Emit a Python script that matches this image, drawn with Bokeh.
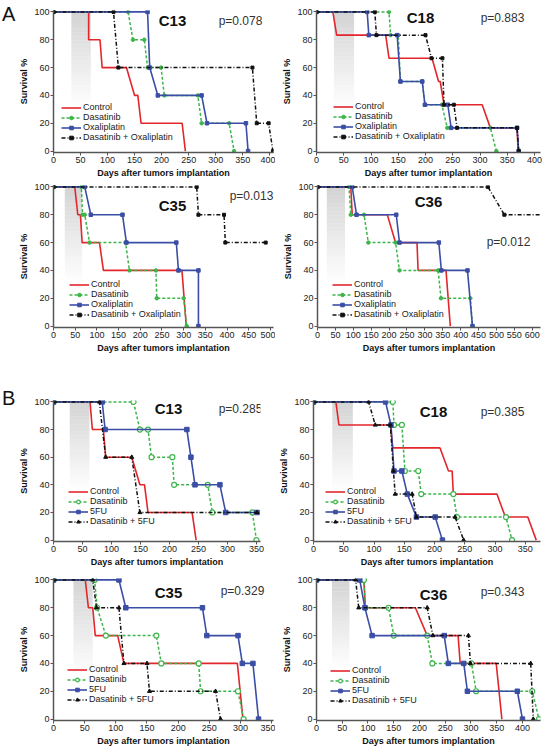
import numpy as np
from bokeh.plotting import figure
from bokeh.models import Range1d, Legend, LegendItem, Label, FixedTicker, Div, Spacer
from bokeh.layouts import row, column
from bokeh.embed import file_html
from bokeh.resources import INLINE

FONT = "Liberation Sans"

# ---------------- DATA (days, survival %) ----------------
# Panel A / C13
a13_ctl_d = [0, 65, 65, 86, 90, 135, 150, 156, 162, 238, 244]
a13_ctl_s = [100, 100, 80, 80, 60, 60, 40, 40, 20, 20, 0]
a13_das_d = [0, 138, 147, 168, 174, 199, 205, 267, 274, 325, 334]
a13_das_s = [100, 100, 80, 80, 60, 60, 40, 40, 20, 20, 0]
a13_oxa_d = [0, 174, 178, 193, 274, 284, 356, 360]
a13_oxa_s = [100, 100, 60, 40, 40, 20, 20, 0]
a13_cmb_d = [0, 111, 120, 368, 376, 398, 406]
a13_cmb_s = [100, 100, 60, 60, 20, 20, 0]
# Panel A / C18
a18_ctl_d = [0, 30, 37, 127, 133, 212, 224, 227, 234, 304, 319, 368, 370]
a18_ctl_s = [100, 100, 83.3, 83.3, 66.7, 66.7, 50, 50, 33.3, 33.3, 16.7, 16.7, 0]
a18_das_d = [0, 133, 136, 150, 154, 194, 199, 230, 240, 319, 330]
a18_das_s = [100, 100, 83.3, 83.3, 50, 50, 33.3, 33.3, 16.7, 16.7, 0]
a18_oxa_d = [0, 93, 96, 148, 154, 194, 199, 241, 247, 368, 371]
a18_oxa_s = [100, 100, 83.3, 83.3, 50, 50, 33.3, 33.3, 16.7, 16.7, 0]
a18_cmb_d = [0, 107, 110, 200, 211, 231, 234, 252, 258, 368, 371]
a18_cmb_s = [100, 100, 83.3, 83.3, 66.7, 66.7, 33.3, 33.3, 16.7, 16.7, 0]
# Panel A / C35
a35_ctl_d = [0, 49, 56, 62, 66, 106, 115, 296, 306]
a35_ctl_s = [100, 100, 80, 80, 60, 60, 40, 40, 0]
a35_das_d = [0, 64, 67, 72, 83, 166, 175, 236, 238, 300, 307]
a35_das_s = [100, 100, 80, 80, 60, 60, 40, 40, 20, 20, 0]
a35_oxa_d = [0, 72, 86, 159, 168, 283, 288, 334, 334]
a35_oxa_s = [100, 100, 80, 80, 60, 60, 40, 40, 0]
a35_cmb_d = [0, 330, 334, 393, 396, 489]
a35_cmb_s = [100, 100, 80, 80, 60, 60]
# Panel A / C36
a36_ctl_d = [0, 93, 97, 195, 218, 278, 281, 359, 371]
a36_ctl_s = [100, 100, 80, 80, 60, 60, 40, 40, 0]
a36_das_d = [0, 88, 93, 130, 142, 218, 229, 337, 345, 427, 433]
a36_das_s = [100, 100, 80, 80, 60, 60, 40, 40, 20, 20, 0]
a36_oxa_d = [0, 97, 109, 220, 229, 339, 346, 419, 433]
a36_oxa_s = [100, 100, 80, 80, 60, 60, 40, 40, 0]
a36_cmb_d = [0, 476, 522, 636]
a36_cmb_s = [100, 100, 80, 80]
# Panel B / C13
b13_ctl_d = [0, 63, 67, 86, 90, 135, 149, 157, 163, 239, 246]
b13_ctl_s = [100, 100, 80, 80, 60, 60, 40, 40, 20, 20, 0]
b13_das_d = [0, 138, 149, 163, 169, 205, 208, 266, 274, 343, 350]
b13_das_s = [100, 100, 80, 80, 60, 60, 40, 40, 20, 20, 0]
b13_fu_d = [0, 84, 89, 230, 237, 244, 287, 297, 351]
b13_fu_s = [100, 100, 80, 80, 60, 40, 40, 20, 20]
b13_cmb_d = [0, 79, 90, 135, 149, 351]
b13_cmb_s = [100, 100, 60, 60, 20, 20]
# Panel B / C18
b18_ctl_d = [0, 37, 42, 127, 131, 209, 223, 229, 231, 303, 317, 354, 368]
b18_ctl_s = [100, 100, 83.3, 83.3, 66.7, 66.7, 50, 50, 33.3, 33.3, 16.7, 16.7, 0]
b18_das_d = [0, 131, 133, 146, 151, 173, 178, 231, 237, 318, 328]
b18_das_s = [100, 100, 83.3, 83.3, 50, 50, 33.3, 33.3, 16.7, 16.7, 0]
b18_fu_d = [0, 119, 128, 133, 146, 155, 170, 201, 213]
b18_fu_s = [100, 100, 83.3, 50, 50, 33.3, 16.7, 16.7, 0]
b18_cmb_d = [0, 91, 102, 127, 132, 135, 163, 170, 234, 248]
b18_cmb_s = [100, 100, 83.3, 83.3, 50, 33.3, 33.3, 16.7, 16.7, 0]
# Panel B / C35
b35_ctl_d = [0, 51, 56, 63, 67, 103, 113, 295, 304]
b35_ctl_s = [100, 100, 80, 80, 60, 60, 40, 40, 0]
b35_das_d = [0, 66, 70, 84, 165, 173, 233, 236, 296, 305]
b35_das_s = [100, 100, 80, 60, 60, 40, 40, 20, 20, 0]
b35_fu_d = [0, 105, 116, 239, 246, 296, 303, 320, 329]
b35_fu_s = [100, 100, 80, 80, 60, 60, 40, 40, 0]
b35_cmb_d = [0, 63, 69, 105, 113, 150, 154, 260, 268]
b35_cmb_s = [100, 100, 80, 80, 40, 40, 20, 20, 0]
# Panel B / C36
b36_ctl_d = [0, 92, 95, 192, 215, 275, 279, 349, 360]
b36_ctl_s = [100, 100, 80, 80, 60, 60, 40, 40, 0]
b36_das_d = [0, 92, 95, 140, 150, 215, 225, 301, 310, 419, 432]
b36_das_s = [100, 100, 80, 80, 60, 60, 40, 40, 20, 20, 0]
b36_fu_d = [0, 84, 94, 108, 248, 256, 286, 293, 390, 400]
b36_fu_s = [100, 100, 80, 60, 60, 40, 40, 20, 20, 0]
b36_cmb_d = [0, 76, 82, 215, 226, 295, 299, 416, 421]
b36_cmb_s = [100, 100, 80, 80, 60, 60, 40, 40, 0]

# treatment window (shaded) per panel: start day, end day, fade level %
treat_a13 = [33, 69, 30]
treat_a18 = [32, 69, 30]
treat_a35 = [26, 66, 30]
treat_a36 = [26, 77, 30]
treat_b13 = [28, 62, 35]
treat_b18 = [31, 65, 35]
treat_b35 = [32, 63, 30]
treat_b36 = [30, 64, 35]

y_ticks = [0, 20, 40, 60, 80, 100]
x_ticks_400 = [0, 50, 100, 150, 200, 250, 300, 350, 400]
x_ticks_500 = [0, 50, 100, 150, 200, 250, 300, 350, 400, 450, 500]
x_ticks_600 = [0, 50, 100, 150, 200, 250, 300, 350, 400, 450, 500, 550, 600]
x_ticks_350 = [0, 50, 100, 150, 200, 250, 300, 350]

RED = "#e3262b"
GREEN = "#3db54a"
BLUE = "#3b4ea6"
BLACK = "#111111"


def panel(w, h, bl, br, bt, bb, xmax, xticks, xlabel, treat, series, names, title, tpos,
          pval, ppos, legpos, kind):
    p = figure(width=w, height=h, x_range=Range1d(0, xmax), y_range=Range1d(-1, 101),
               output_backend="svg", toolbar_location=None, min_border=0,
               min_border_left=bl, min_border_right=br, min_border_top=bt,
               min_border_bottom=bb)
    p.outline_line_color = None
    p.xgrid.visible = False
    p.ygrid.visible = False
    p.background_fill_color = "white"
    p.border_fill_color = "white"

    # shaded treatment window with vertical fade
    n = 24
    t0, t1, fade = treat
    edges = np.linspace(100, fade, n + 1)
    alphas = np.linspace(0.6, 0.0, n)
    p.quad(left=[t0] * n, right=[t1] * n, top=edges[:-1], bottom=edges[1:],
           fill_color="#b8b8b8", fill_alpha=alphas, line_color=None)

    cols = [RED, GREEN, BLUE, BLACK]
    items = []
    for i, (d, s) in enumerate(series):
        c = cols[i]
        if i == 0:
            r = p.line(d, s, line_color=c, line_width=1.6)
            rs = [r]
        elif i == 1:
            r = p.line(d, s, line_color=c, line_width=1.5, line_dash="3 2")
            if kind == "A":
                m = p.scatter(d, s, marker="circle", size=3.5, fill_color=c, line_color=c)
            else:
                m = p.scatter(d, s, marker="circle", size=5, fill_color="white",
                              line_color=c, line_width=1.2)
            rs = [r, m]
        elif i == 2:
            r = p.line(d, s, line_color=c, line_width=1.6)
            m = p.scatter(d, s, marker="square", size=3.5 if kind == "A" else 4.5,
                          fill_color=c, line_color=c)
            rs = [r, m]
        else:
            r = p.line(d, s, line_color=c, line_width=1.5, line_dash="4 2 1 2")
            m = p.scatter(d, s, marker="square" if kind == "A" else "triangle",
                          size=3 if kind == "A" else 4, fill_color=c, line_color=c)
            rs = [r, m]
        items.append(LegendItem(label=names[i], renderers=rs))

    leg = Legend(items=items, location=legpos, background_fill_alpha=0,
                 border_line_alpha=0, padding=0, margin=0, spacing=0,
                 label_text_font=FONT, label_text_font_size="9px",
                 label_text_color="#222222", label_height=9, glyph_height=9,
                 glyph_width=20, label_standoff=2)
    p.add_layout(leg)

    for ax in (p.xaxis, p.yaxis):
        ax.axis_line_color = "#555555"
        ax.axis_line_width = 1.5
        ax.major_tick_line_color = "#555555"
        ax.major_tick_out = 3
        ax.major_tick_in = 0
        ax.minor_tick_line_color = None
        ax.major_label_text_font = FONT
        ax.major_label_text_font_size = "9px"
        ax.major_label_text_color = "#222222"
        ax.major_label_standoff = 1
        ax.axis_label_text_font = FONT
        ax.axis_label_text_font_size = "9px"
        ax.axis_label_text_font_style = "bold"
        ax.axis_label_text_color = "#111111"
        ax.axis_label_standoff = 2
    p.xaxis.ticker = FixedTicker(ticks=xticks)
    p.yaxis.ticker = FixedTicker(ticks=y_ticks)
    p.xaxis.axis_label = xlabel
    p.yaxis.axis_label = "Survival %"

    p.add_layout(Label(x=tpos[0], y=tpos[1], x_units="screen", y_units="screen",
                       text=title, text_font=FONT, text_font_size="15px",
                       text_font_style="bold", text_align="center",
                       text_baseline="middle", text_color="#111111"))
    p.add_layout(Label(x=ppos[0], y=ppos[1], x_units="screen", y_units="screen",
                       text=pval, text_font=FONT, text_font_size="12px",
                       text_align="center", text_baseline="middle",
                       text_color="#333333"))
    return p


XL = "Days after tumors implantation"
names_a = ["Control", "Dasatinib", "Oxaliplatin", "Dasatinib + Oxaliplatin"]
names_b = ["Control", "Dasatinib", "5FU", "Dasatinib + 5FU"]

LW = 259  # left column figure width (a 16px strip holds the panel letters)
pA13 = panel(LW, 183, 33, 2, 10, 31, 407, x_ticks_400, XL, treat_a13,
             [(a13_ctl_d, a13_ctl_s), (a13_das_d, a13_das_s), (a13_oxa_d, a13_oxa_s), (a13_cmb_d, a13_cmb_s)],
             names_a, "C13", (119, 132), "p=0.078", (187, 132), (8, 10), "A")
pA18 = panel(275, 183, 41, 10, 10, 31, 411, x_ticks_400, "Days after tumor implantation", treat_a18,
             [(a18_ctl_d, a18_ctl_s), (a18_das_d, a18_das_s), (a18_oxa_d, a18_oxa_s), (a18_cmb_d, a18_cmb_s)],
             names_a, "C18", (104, 135), "p=0.883", (186, 135), (17, 11), "A")
pA35 = panel(LW, 175, 33, 2, 2, 31, 507, x_ticks_500, XL, treat_a35,
             [(a35_ctl_d, a35_ctl_s), (a35_das_d, a35_das_s), (a35_oxa_d, a35_oxa_s), (a35_cmb_d, a35_cmb_s)],
             names_a, "C35", (119, 122), "p=0.013", (198, 132), (16, 8), "A")
pA36 = panel(275, 175, 42, 10, 2, 31, 623, x_ticks_600, XL, treat_a36,
             [(a36_ctl_d, a36_ctl_s), (a36_das_d, a36_das_s), (a36_oxa_d, a36_oxa_s), (a36_cmb_d, a36_cmb_s)],
             names_a, "C36", (111, 126), "p=0.012", (191, 86), (15, 8), "A")
pB13 = panel(LW, 211, 32, 15, 42, 27, 357, x_ticks_350, XL, treat_b13,
             [(b13_ctl_d, b13_ctl_s), (b13_das_d, b13_das_s), (b13_fu_d, b13_fu_s), (b13_cmb_d, b13_cmb_s)],
             names_b, "C13", (115, 133), "p=0.285", (187, 133), (15, 15), "B")
pB18 = panel(275, 211, 38, 10, 42, 27, 375, x_ticks_350, XL, treat_b18,
             [(b18_ctl_d, b18_ctl_s), (b18_das_d, b18_das_s), (b18_fu_d, b18_fu_s), (b18_cmb_d, b18_cmb_s)],
             names_b, "C18", (120, 130), "p=0.385", (189, 130), (12, 15), "B")
pB35 = panel(LW, 183, 32, 2, 9, 32, 353, x_ticks_350, XL, treat_b35,
             [(b35_ctl_d, b35_ctl_s), (b35_das_d, b35_das_s), (b35_fu_d, b35_fu_s), (b35_cmb_d, b35_cmb_s)],
             names_b, "C35", (115, 128), "p=0.329", (189, 130), (14, 16), "B")
pB36 = panel(275, 183, 41, 10, 9, 32, 435, x_ticks_400, XL, treat_b36,
             [(b36_ctl_d, b36_ctl_s), (b36_das_d, b36_das_s), (b36_fu_d, b36_fu_s), (b36_cmb_d, b36_cmb_s)],
             names_b, "C36", (117, 126), "p=0.343", (186, 129), (14, 15), "B")

LETTER_STYLE = {"font-family": FONT, "font-size": "20px", "color": "#111111",
                "line-height": "20px", "margin": "0", "padding": "0"}
divA = Div(text="A", width=16, height=24, styles=dict(LETTER_STYLE, **{"padding-top": "4px", "padding-left": "2px"}))
divB = Div(text="B", width=16, height=24, styles=dict(LETTER_STYLE, **{"padding-left": "2px"}))
letters = column(divA, Spacer(width=16, height=364), divB, Spacer(width=16, height=340))

plots = column(row(pA13, pA18), row(pA35, pA36), row(pB13, pB18), row(pB35, pB36))
layout = row(letters, plots)
open("out.html", "w").write(file_html(layout, INLINE))
